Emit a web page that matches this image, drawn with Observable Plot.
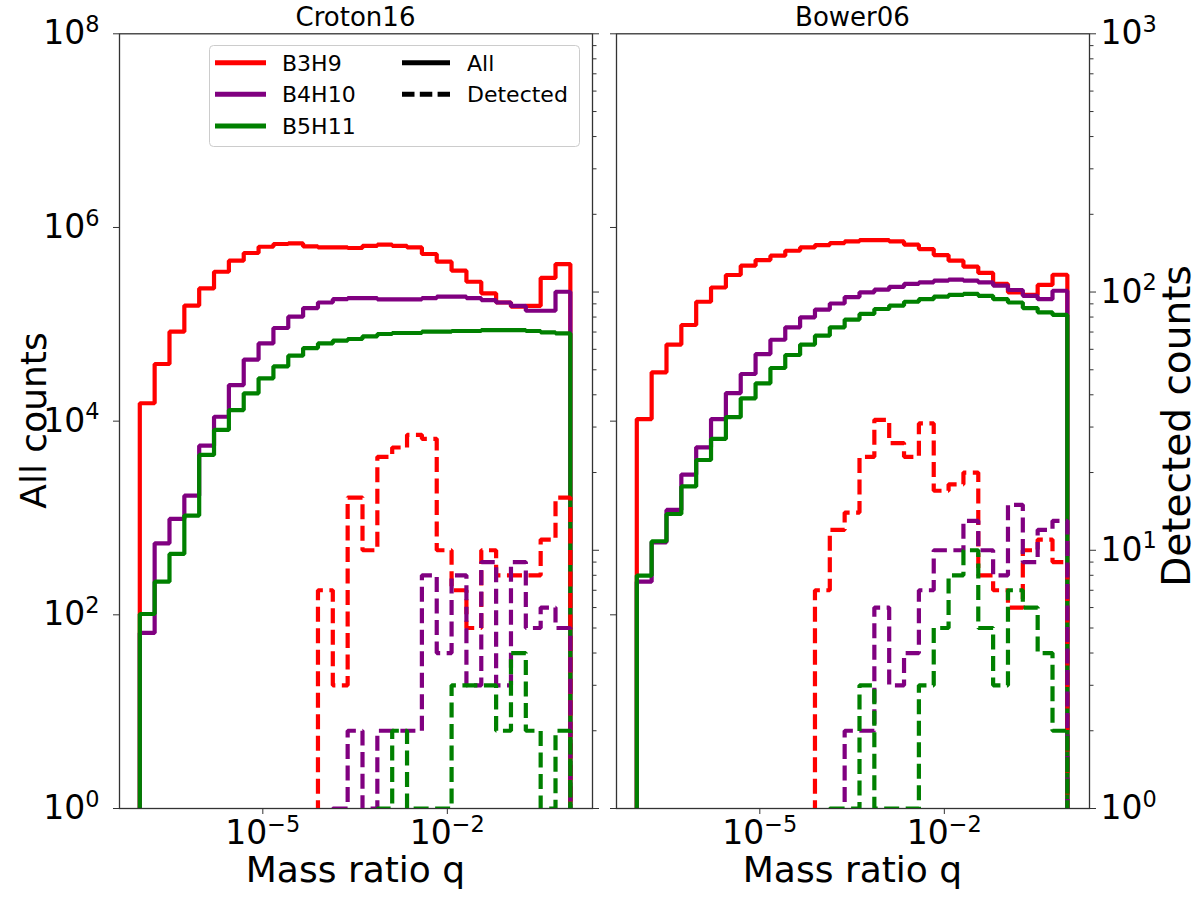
<!DOCTYPE html>
<html><head><meta charset="utf-8">
<script src="https://cdn.jsdelivr.net/npm/d3@7"></script>
<script src="https://cdn.jsdelivr.net/npm/@observablehq/plot@0.6"></script>
<style>
body{margin:0;background:#fff;font-family:"DejaVu Sans",sans-serif;}
#fig{position:relative;width:1200px;height:899px;overflow:hidden;background:#fff;}
#fig svg{position:absolute;top:0;}
</style></head><body><div id="fig"></div>
<script>
// ---- histogram binning (log10 q from -7 to 0, 29 bins) ----
const logQMin = -7, logQMax = 0, binCount = 29;
const series = ["B3H9", "B4H10", "B5H11"];
const colors = ["#ff0000", "#800080", "#008000"];
const panelTitles = ["Croton16", "Bower06"];
const xTicks = [1e-5, 1e-2];
const allTicks = [1, 1e2, 1e4, 1e6, 1e8];
const detMajorTicks = [1, 10, 100, 1000];

// ---- Croton16 : all counts ----
const crotonAllB3H9 = [15300, 38900, 84000, 156000, 235000, 349000, 454000, 545000, 632000, 675000, 685000, 637000, 622000, 622000, 614000, 646000, 664000, 646000, 622000, 532000, 443000, 358000, 275000, 209000, 168000, 152000, 155000, 301000, 419000];
const crotonAllB4H10 = [65, 548, 977, 1700, 5580, 11100, 23600, 43200, 63500, 91600, 120000, 147000, 168000, 182000, 186000, 186000, 181000, 181000, 181000, 186000, 193000, 193000, 186000, 178000, 168000, 155000, 138000, 138000, 217000];
const crotonAllB5H11 = [102, 220, 426, 1060, 4480, 8110, 13000, 19400, 27700, 36800, 47400, 56900, 63500, 67800, 70500, 75200, 79400, 81300, 81300, 83900, 83900, 85300, 85300, 87300, 87300, 87300, 85300, 82600, 80500];
// ---- Croton16 : detected counts ----
const crotonDetB3H9 = [0, 0, 0, 0, 0, 0, 0, 0, 0, 0, 0, 0, 7, 3, 16, 10, 23, 25, 28, 27, 10, 7, 5, 10, 8, 8, 8, 11, 16];
const crotonDetB4H10 = [0, 0, 0, 0, 0, 0, 0, 0, 0, 0, 0, 0, 0, 1, 2, 1, 2, 2, 2, 8, 4, 8, 3, 9, 3, 9, 5, 6, 5];
const crotonDetB5H11 = [0, 0, 0, 0, 0, 0, 0, 0, 0, 0, 0, 0, 0, 0, 0, 0, 1, 2, 1, 1, 1, 3, 3, 3, 2, 4, 2, 1, 2];
// ---- Bower06 : all counts ----
const bowerAllB3H9 = [10500, 31900, 61700, 98400, 171000, 240000, 323000, 403000, 461000, 511000, 575000, 622000, 658000, 690000, 718000, 741000, 741000, 718000, 664000, 598000, 519000, 454000, 394000, 339000, 261000, 214000, 202000, 255000, 325000];
const bowerAllB4H10 = [220, 561, 1210, 2810, 5370, 10500, 19500, 30700, 49300, 69300, 93100, 118000, 142000, 164000, 191000, 214000, 228000, 244000, 261000, 271000, 282000, 289000, 282000, 271000, 251000, 226000, 197000, 182000, 222000];
const bowerAllB5H11 = [254, 575, 1100, 2120, 3970, 6550, 11000, 17200, 24600, 35400, 48200, 61700, 76400, 93100, 112000, 128000, 144000, 156000, 171000, 182000, 193000, 201000, 206000, 197000, 182000, 168000, 147000, 133000, 125000];
// ---- Bower06 : detected counts ----
const bowerDetB3H9 = [0, 0, 0, 0, 0, 0, 0, 0, 0, 0, 0, 0, 7, 12, 14, 23, 32, 26, 23, 31, 17, 18, 20, 8, 7, 6, 10, 11, 9];
const bowerDetB4H10 = [0, 0, 0, 0, 0, 0, 0, 0, 0, 0, 0, 0, 0, 0, 2, 2, 6, 3, 4, 7, 10, 10, 13, 10, 8, 15, 9, 12, 13];
const bowerDetB5H11 = [0, 0, 0, 0, 0, 0, 0, 0, 0, 0, 0, 0, 0, 1, 1, 3, 1, 1, 1, 3, 5, 8, 10, 5, 3, 7, 6, 4, 2];

// ---- geometry ----
const H = 899, FT = 33.3, FB = 808, FW = 473;
const xDomain = [10 ** -7.33, 10 ** 0.36];
const edges = d3.range(binCount + 1).map(i => 10 ** (logQMin + i * (logQMax - logQMin) / binCount));
const FLOOR = 1e-3;
function stepPoints(counts) {
  const pts = [{x: edges[0], y: FLOOR}];
  counts.forEach((c, i) => pts.push({x: edges[i], y: c > 0 ? c : FLOOR}));
  pts.push({x: edges[counts.length], y: FLOOR});
  return pts;
}
const supMap = {"-": "\u207B", "0": "\u2070", "1": "\u00B9", "2": "\u00B2", "3": "\u00B3", "4": "\u2074", "5": "\u2075", "6": "\u2076", "7": "\u2077", "8": "\u2078", "9": "\u2079"};
const revMap = {"\u207B": "\u2212", "\u2070": "0", "\u00B9": "1", "\u00B2": "2", "\u00B3": "3", "\u2074": "4", "\u2075": "5", "\u2076": "6", "\u2077": "7", "\u2078": "8", "\u2079": "9"};
const sup = d => "10" + String(Math.round(Math.log10(d))).split("").map(c => supMap[c]).join("");
const blank = () => "";
const detMinorTicks = [];
for (const dec of [1, 10, 100]) for (let m = 2; m <= 9; m++) detMinorTicks.push(m * dec);

const baseStyle = {fontFamily: "DejaVu Sans", background: "transparent", overflow: "visible", color: "#000"};
const lineOpts = (k) => ({x: "x", y: "y", curve: "step-after", stroke: colors[k], strokeWidth: 4.2, strokeLinejoin: "miter", strokeLinecap: "butt", clip: true});

function allPlot(arrays, geo, showLeftLabels) {
  return Plot.plot({
    width: geo.w, height: H,
    marginLeft: geo.ml, marginRight: geo.w - geo.ml - FW, marginTop: FT, marginBottom: H - FB,
    x: {type: "log", domain: xDomain},
    y: {type: "log", domain: [1, 1e8]},
    style: baseStyle,
    marks: [
      ...arrays.map((a, k) => Plot.line(stepPoints(a), lineOpts(k))),
      Plot.axisY({ticks: allTicks, tickFormat: showLeftLabels ? sup : blank, tickSize: 6, tickPadding: 14, fontSize: 33, label: null, stroke: "#333"}),
      Plot.axisX({ticks: xTicks, tickFormat: sup, tickSize: 6, tickPadding: 6, fontSize: 33, label: null, stroke: "#333"}),
      Plot.frame({stroke: "#333", strokeWidth: 1.3})
    ]
  });
}
function detPlot(arrays, geo, showRightLabels) {
  return Plot.plot({
    width: geo.w, height: H,
    marginLeft: geo.ml, marginRight: geo.w - geo.ml - FW, marginTop: FT, marginBottom: H - FB,
    x: {type: "log", domain: xDomain, axis: null},
    y: {type: "log", domain: [1, 1e3]},
    style: baseStyle,
    marks: [
      ...arrays.map((a, k) => Plot.line(stepPoints(a), {...lineOpts(k), strokeDasharray: "15,6.5"})),
      Plot.axisY({anchor: "right", ticks: detMajorTicks, tickFormat: showRightLabels ? sup : blank, tickSize: 6, tickPadding: 5, fontSize: 33, label: null, stroke: "#333", textAnchor: "start"}),
      Plot.axisY({anchor: "right", ticks: detMinorTicks, tickFormat: blank, tickSize: 3.5, label: null, stroke: "#333"})
    ]
  });
}

const ns = "http://www.w3.org/2000/svg";
// render exponent as a raised, smaller tspan (like mathtext 10^n)
function raiseExponents(svg) {
  svg.querySelectorAll("text").forEach(t => {
    const s = t.textContent;
    const m = s.match(/^10([\u207B\u2070\u00B9\u00B2\u00B3\u2074-\u2079]+)$/);
    if (!m) return;
    const exp = [...m[1]].map(c => revMap[c]).join("");
    t.textContent = "10";
    const ts = document.createElementNS(ns, "tspan");
    ts.setAttribute("font-size", "0.68em");
    ts.setAttribute("dy", "-0.55em");
    ts.textContent = exp;
    t.appendChild(ts);
  });
}

const fig = document.getElementById("fig");
const geoms = [{left: 0, w: 600, ml: 119}, {left: 500, w: 700, ml: 116}];
const panelData = [
  {all: [crotonAllB3H9, crotonAllB4H10, crotonAllB5H11], det: [crotonDetB3H9, crotonDetB4H10, crotonDetB5H11]},
  {all: [bowerAllB3H9, bowerAllB4H10, bowerAllB5H11], det: [bowerDetB3H9, bowerDetB4H10, bowerDetB5H11]}
];
panelData.forEach((p, i) => {
  const g = geoms[i];
  const a = allPlot(p.all, g, i === 0);
  a.style.left = g.left + "px";
  raiseExponents(a);
  fig.appendChild(a);
  const d = detPlot(p.det, g, i === 1);
  d.style.left = g.left + "px";
  raiseExponents(d);
  fig.appendChild(d);
});

// ---- overlay: titles, axis labels, legend ----
const ov = document.createElementNS(ns, "svg");
ov.setAttribute("width", 1200); ov.setAttribute("height", H);
ov.style.left = "0px";
ov.setAttribute("font-family", "DejaVu Sans");
function txt(x, y, s, size, opts = {}) {
  const t = document.createElementNS(ns, "text");
  t.setAttribute("x", x); t.setAttribute("y", y);
  t.setAttribute("font-size", size);
  t.setAttribute("text-anchor", opts.anchor || "middle");
  if (opts.rotate) t.setAttribute("transform", `rotate(-90 ${x} ${y})`);
  t.textContent = s;
  ov.appendChild(t);
  return t;
}
function ln(x1, y1, x2, y2, color, dash) {
  const l = document.createElementNS(ns, "line");
  l.setAttribute("x1", x1); l.setAttribute("y1", y1); l.setAttribute("x2", x2); l.setAttribute("y2", y2);
  l.setAttribute("stroke", color); l.setAttribute("stroke-width", 5);
  if (dash) l.setAttribute("stroke-dasharray", dash);
  ov.appendChild(l);
}
const panelCenters = [119 + FW / 2, 616 + FW / 2];
panelTitles.forEach((t, i) => txt(panelCenters[i], 26, t, 26));
panelCenters.forEach(c => txt(c, 882, "Mass ratio q", 36));
txt(46, 420.5, "All counts", 36, {rotate: true});
txt(1190, 426, "Detected counts", 39, {rotate: true});

// legend
const lg = document.createElementNS(ns, "rect");
lg.setAttribute("x", 209.5); lg.setAttribute("y", 45.5); lg.setAttribute("width", 370); lg.setAttribute("height", 101);
lg.setAttribute("rx", 4); lg.setAttribute("fill", "rgba(255,255,255,0.8)"); lg.setAttribute("stroke", "#cccccc");
ov.appendChild(lg);
const rowY = [62.7, 94.3, 126];
series.forEach((s, k) => {
  ln(215, rowY[k], 266, rowY[k], colors[k]);
  txt(282, rowY[k] + 8, s, 22, {anchor: "start"});
});
const styleNames = ["All", "Detected"];
ln(402, rowY[0], 450, rowY[0], "#000");
ln(402, rowY[1], 450, rowY[1], "#000", "12.5,5.3");
styleNames.forEach((s, k) => txt(467, rowY[k] + 8, s, 22, {anchor: "start"}));
fig.appendChild(ov);
</script></body></html>
